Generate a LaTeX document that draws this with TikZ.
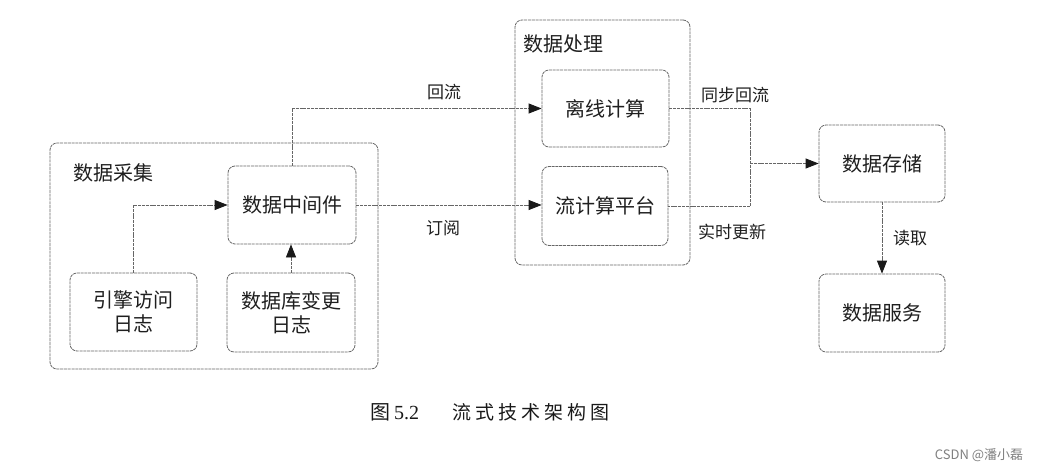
\documentclass[tikz,border=0pt]{standalone}
\usepackage{fontspec}
\setmainfont{Noto Sans CJK SC}
\newfontfamily\capfont[LetterSpace=21]{Noto Sans CJK SC}
\newfontfamily\numfont{Liberation Serif}
\usetikzlibrary{arrows.meta}
\begin{document}
\begin{tikzpicture}[x=1pt,y=-1pt,
  line/.style={draw=black!60, line width=0.8pt, dash pattern=on 3pt off 0.8pt},
  group/.style={line, rounded corners=7pt, rectangle, inner sep=0pt},
  box/.style={line, rounded corners=7pt, rectangle, inner sep=0pt, align=center,
    text=black!88, font=\fontsize{20}{24}\selectfont},
  conn/.style={line},
  arr/.style={line, -{Triangle[length=13pt,width=10pt,fill=black!90,color=black!90]}},
  grouplabel/.style={text=black!88, font=\fontsize{20}{24}\selectfont, inner sep=0pt},
  elabel/.style={text=black!88, font=\fontsize{17}{20}\selectfont, inner sep=0pt}]
\useasboundingbox[fill=white] (0,0) rectangle (1045,472);
% groups
\node[group, minimum width=328pt, minimum height=226pt] (grpA) at (214,256) {};
\node[grouplabel] (grpAlbl) at (113,173) {数据采集};
\node[group, minimum width=175pt, minimum height=245pt] (grpB) at (602.5,142.5) {};
\node[grouplabel] (grpBlbl) at (563,44) {数据处理};
% boxes
\node[box, minimum width=128pt, minimum height=78pt] (mid) at (292,205) {数据中间件};
\node[box, minimum width=127pt, minimum height=78pt] (eng) at (133.5,312) {引擎访问\\日志};
\node[box, minimum width=128pt, minimum height=79pt] (dbc) at (291,312.5) {数据库变更\\日志};
\node[box, minimum width=127pt, minimum height=77pt] (off) at (605.5,108.5) {离线计算};
\node[box, minimum width=126pt, minimum height=79pt] (str) at (605,206) {流计算平台};
\node[box, minimum width=126pt, minimum height=77pt] (sto) at (882,163.5) {数据存储};
\node[box, minimum width=126pt, minimum height=78pt] (srv) at (882,313) {数据服务};
% connectors
\draw[arr] (eng.north) |- (mid.west);
\draw[arr] (dbc.north) -- (dbc.north |- mid.south);
\draw[arr] (mid.north) |- (off.west);
\draw[arr] (mid.east) -- (mid.east -| str.west);
\coordinate (jx) at (750,0);
\draw[conn] (off.east) -| (jx |- str.east) -- (str.east);
\draw[arr] (jx |- sto.west) -- (sto.west);
\draw[arr] (sto.south) -- (sto.south |- srv.north);
% labels
\node[elabel] (l1) at (444,92) {回流};
\node[elabel] (l2) at (443,228) {订阅};
\node[elabel] (l3) at (735,95) {同步回流};
\node[elabel] (l4) at (732,232) {实时更新};
\node[elabel] (l5) at (910,238) {读取};
% caption
\node[anchor=west, inner sep=0pt, text=black!90, font=\fontsize{20}{22}\selectfont] (cap1) at (370,412) {图\hspace{4pt}{\numfont 5.2}};
\node[anchor=west, inner sep=0pt, text=black!90, font=\fontsize{19}{22}\capfont] (cap2) at (452,412) {流式技术架构图};
% watermark
\node[inner sep=0pt, text=black!50, font=\fontsize{13}{15}\selectfont] (wm) at (979,455) {CSDN @潘小磊};
\end{tikzpicture}
\end{document}
